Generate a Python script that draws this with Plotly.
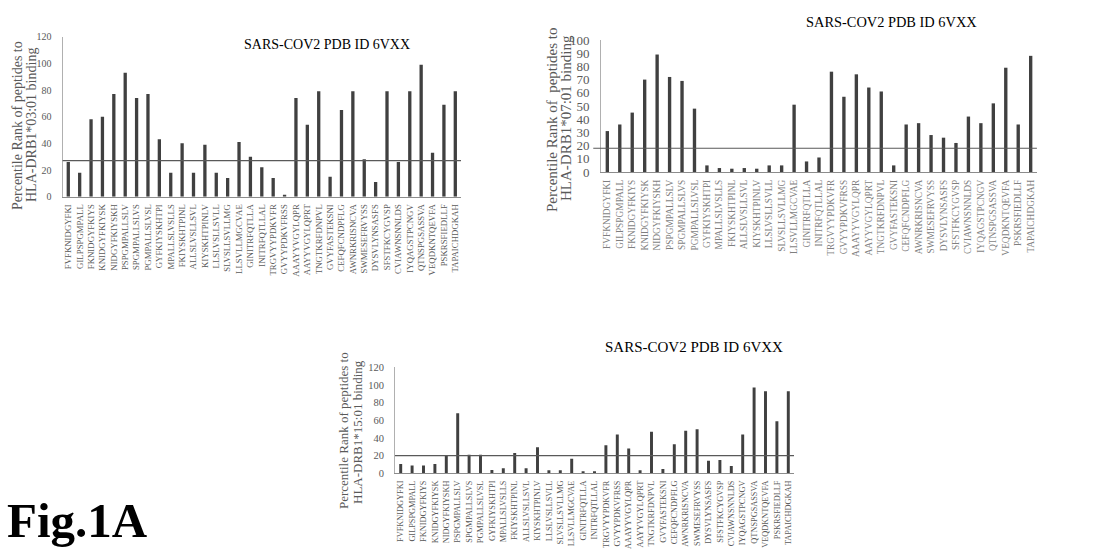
import plotly.graph_objects as go

W, H = 1097, 550

peptides = [
    "FVFKNIDGYFKI", "GILPSPGMPALL", "FKNIDGYFKIYS", "KNIDGYFKIYSK", "NIDGYFKIYSKH",
    "PSPGMPALLSLV", "SPGMPALLSLVS", "PGMPALLSLVSL", "GYFKIYSKHTPI", "MPALLSLVSLLS",
    "FKIYSKHTPINL", "ALLSLVSLLSVL", "KIYSKHTPINLV", "LLSLVSLLSVLL", "SLVSLLSVLLMG",
    "LLSVLLMGCVAE", "GINITRFQTLLA", "INITRFQTLLAL", "TRGVYYPDKVFR", "GVYYPDKVFRSS",
    "AAAYYVGYLQPR", "AAYYVGYLQPRT", "TNGTKRFDNPVL", "GVYFASTEKSNI", "CEFQFCNDPFLG",
    "AWNRKRISNCVA", "SWMESEFRVYSS", "DYSVLYNSASFS", "SFSTFKCYGVSP", "CVIAWNSNNLDS",
    "IYQAGSTPCNGV", "QTNSPGSASSVA", "VEQDKNTQEVFA", "PSKRSFIEDLLF", "TAPAICHDGKAH",
]

drb1_0301 = [26, 18, 58, 60, 77, 93, 74, 77, 43, 18,
             40, 18, 39, 18, 14, 41, 30, 22, 14, 1.5,
             74, 54, 79, 15, 65, 79, 28, 11, 79, 26,
             79, 99, 33, 69, 79]
drb1_0701 = [31, 36, 45, 70, 89, 72, 69, 48, 5, 3,
             2.5, 3, 2.5, 5, 5, 51, 8, 11, 76, 57,
             74, 64, 61, 5, 36, 37, 28, 26, 22, 42,
             37, 52, 79, 36, 88]
drb1_1501 = [10.6, 8.7, 8.7, 10.6, 19.6, 68, 21, 21, 3.8, 5.7,
             23, 5.7, 29.4, 3.4, 3.4, 16.6, 2.3, 1.9, 31.7, 44,
             28, 3.4, 47, 4.9, 33, 48.3, 50, 14.3, 15, 8.3,
             44, 97, 93, 59, 93]

thresholds = [27, 18, 20]
titles = ["SARS-COV2 PDB ID 6VXX"] * 3
ytitle_line1 = ["Percentile Rank of peptides to", "Percentile Rank of  peptides to",
                "Percentile Rank of peptides to"]
ytitle_line2 = ["HLA-DRB1*03:01 binding", "HLA-DRB1*07:01 binding",
                "HLA-DRB1*15:01 binding"]
yranges = [[0, 120], [0, 100], [0, 120]]
ydticks = [20, 10, 20]

SERIF = "Liberation Serif, Times New Roman, serif"
BAR = "#404040"
TICK = "#595959"


def px_x(p):
    return p / W


def px_y(p):
    return 1 - p / H


# panel geometry in pixels: (left, right, top(ymax), bottom(0))
panels = [
    dict(l=62.6, r=461.0, t=36.7, b=196.7, bw=0.29, ytf=10, xtf=8.8, xtc=TICK),
    dict(l=601.1, r=1036.9, t=40.0, b=172.0, bw=0.27, ytf=13, xtf=9.4, xtc="#7f7f7f"),
    dict(l=395.0, r=794.0, t=367.3, b=473.3, bw=0.26, ytf=10.5, xtf=8.3, xtc=TICK),
]
series = [drb1_0301, drb1_0701, drb1_1501]

fig = go.Figure()
layout = dict(
    width=W, height=H, margin=dict(l=0, r=0, t=0, b=0, autoexpand=False),
    paper_bgcolor="white", plot_bgcolor="white", showlegend=False,
    font=dict(family=SERIF, color=TICK),
)

for i, (p, vals) in enumerate(zip(panels, series)):
    n = "" if i == 0 else str(i + 1)
    fig.add_trace(go.Bar(
        x=peptides, y=vals, width=p["bw"], marker=dict(color=BAR, line=dict(width=0)),
        xaxis="x" + n, yaxis="y" + n, hoverinfo="x+y",
    ))
    layout["xaxis" + n] = dict(
        domain=[px_x(p["l"]), px_x(p["r"])], anchor="y" + n,
        type="category", showgrid=False, zeroline=False, automargin=False,
        showline=True, linecolor="#8c8c8c", linewidth=1,
        ticks="", tickangle=-90, ticklabelstandoff=3,
        tickfont=dict(family=SERIF, size=p["xtf"], color=p["xtc"]),
        range=[-0.5, len(peptides) - 0.5], fixedrange=True,
    )
    layout["yaxis" + n] = dict(
        domain=[px_y(p["b"]), px_y(p["t"])], anchor="x" + n, automargin=False,
        range=yranges[i], dtick=ydticks[i], showgrid=False, zeroline=False,
        showline=True, linecolor="#b0b0b0", linewidth=1,
        ticks="", ticklabelstandoff=8,
        tickfont=dict(family=SERIF, size=p["ytf"], color=TICK), fixedrange=True,
    )

fig.update_layout(**layout)

# threshold lines
x0s = [0, -0.018, 0]
for i, thr in enumerate(thresholds):
    n = "" if i == 0 else str(i + 1)
    fig.add_shape(type="line", xref="x" + n + " domain", yref="y" + n,
                  x0=x0s[i], x1=1, y0=thr, y1=thr,
                  line=dict(color="#595959", width=1.2))

# titles
title_pos = [(327, 45, 14), (891.5, 21.7, 14.4), (694, 346.7, 15)]
for t, (tx, ty, ts) in zip(titles, title_pos):
    fig.add_annotation(text=t, x=px_x(tx), y=px_y(ty), xref="paper", yref="paper",
                       showarrow=False, xanchor="center", yanchor="middle",
                       font=dict(family=SERIF, size=ts, color="black"))

# y-axis titles (two lines each)
yt_pos = [
    ((17, 126), (31, 125), 14),
    ((552, 120), (566, 118), 15),
    ((343, 431), (357, 432), 13),
]
for l1, l2, ((x1, y1), (x2, y2), fs) in zip(ytitle_line1, ytitle_line2, yt_pos):
    for txt, xx, yy in ((l1, x1, y1), (l2, x2, y2)):
        fig.add_annotation(text=txt, x=px_x(xx), y=px_y(yy), xref="paper", yref="paper",
                           showarrow=False, textangle=-90, xanchor="center",
                           yanchor="middle",
                           font=dict(family=SERIF, size=fs, color=TICK))

fig.add_annotation(text="<b>Fig.1A</b>", x=px_x(5), y=px_y(520), xref="paper",
                   yref="paper", showarrow=False, xanchor="left", yanchor="middle",
                   font=dict(family=SERIF, size=49, color="black"))

fig.write_html("out.html",
               config={"displayModeBar": False},
               post_script="document.body.style.margin='0';"
                           "document.body.style.overflow='hidden';")
